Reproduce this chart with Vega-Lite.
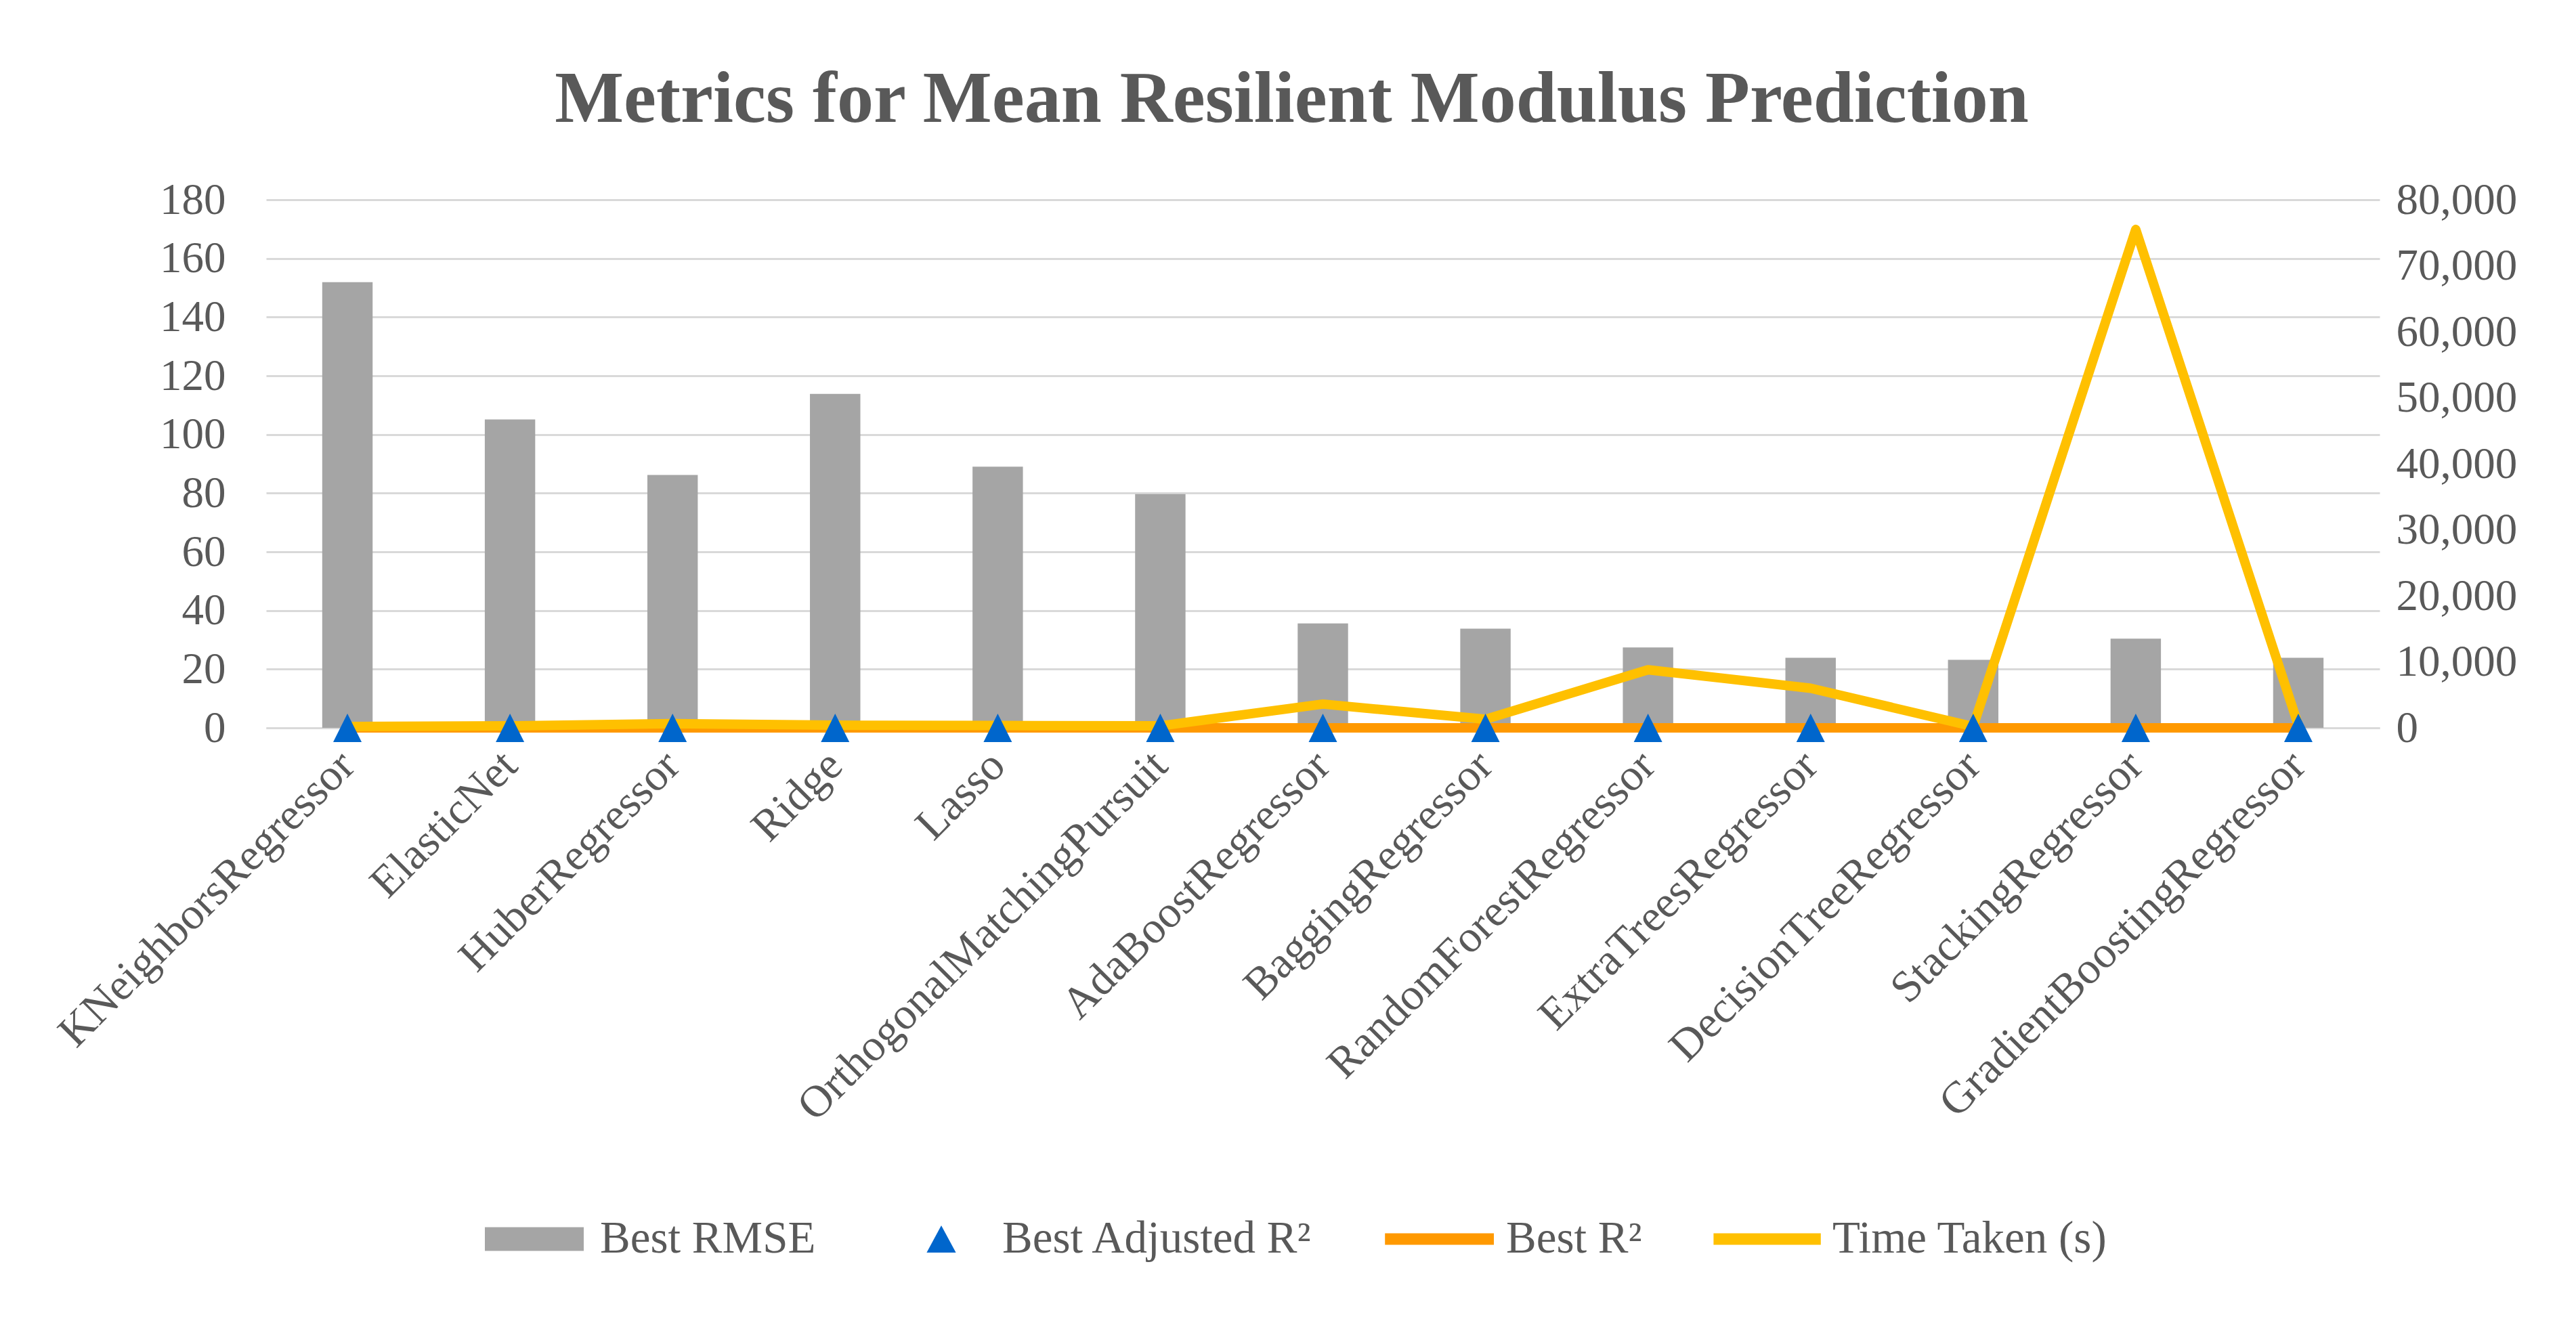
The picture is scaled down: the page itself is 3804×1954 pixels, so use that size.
{
  "$schema": "https://vega.github.io/schema/vega-lite/v6.json",
  "width": 3121,
  "height": 780,
  "autosize": {"type": "none"},
  "padding": {"left": 393, "top": 295, "right": 290, "bottom": 879},
  "background": "white",
  "title": {
    "text": "Metrics for Mean Resilient Modulus Prediction",
    "font": "Liberation Serif",
    "fontSize": 108,
    "fontWeight": "bold",
    "color": "#595959",
    "anchor": "middle",
    "frame": "group",
    "dx": -46,
    "offset": 60
  },
  "data": {
    "values": [
      {"model": "KNeighborsRegressor", "rmse": 151.9, "adjr2": 0.78, "r2": 0.80, "time": 200},
      {"model": "ElasticNet", "rmse": 105.1, "adjr2": 0.89, "r2": 0.90, "time": 300},
      {"model": "HuberRegressor", "rmse": 86.2, "adjr2": 0.92, "r2": 0.93, "time": 650},
      {"model": "Ridge", "rmse": 113.8, "adjr2": 0.87, "r2": 0.88, "time": 400},
      {"model": "Lasso", "rmse": 89.0, "adjr2": 0.91, "r2": 0.92, "time": 350},
      {"model": "OrthogonalMatchingPursuit", "rmse": 79.7, "adjr2": 0.93, "r2": 0.94, "time": 300},
      {"model": "AdaBoostRegressor", "rmse": 35.6, "adjr2": 0.98, "r2": 0.99, "time": 3600},
      {"model": "BaggingRegressor", "rmse": 33.8, "adjr2": 0.98, "r2": 0.99, "time": 1300},
      {"model": "RandomForestRegressor", "rmse": 27.4, "adjr2": 0.99, "r2": 0.99, "time": 8800},
      {"model": "ExtraTreesRegressor", "rmse": 23.9, "adjr2": 0.99, "r2": 0.99, "time": 6000},
      {"model": "DecisionTreeRegressor", "rmse": 23.2, "adjr2": 0.99, "r2": 0.99, "time": 200},
      {"model": "StackingRegressor", "rmse": 30.4, "adjr2": 0.99, "r2": 0.99, "time": 75500},
      {"model": "GradientBoostingRegressor", "rmse": 23.9, "adjr2": 0.99, "r2": 0.99, "time": 400}
    ]
  },
  "encoding": {
    "x": {
      "field": "model",
      "type": "nominal",
      "sort": null,
      "scale": {"paddingInner": 0.69, "paddingOuter": 0.345},
      "axis": {
        "title": null,
        "labelAngle": -45,
        "labelAlign": "right",
        "labelBaseline": "middle",
        "labelFont": "Liberation Serif",
        "labelFontSize": 66,
        "labelColor": "#595959",
        "labelLimit": 3000,
        "labelPadding": 45,
        "ticks": false,
        "domainColor": "#D9D9D9",
        "domainWidth": 3,
        "grid": false
      }
    }
  },
  "layer": [
    {
      "mark": {"type": "bar", "color": "#A5A5A5"},
      "encoding": {
        "y": {
          "field": "rmse",
          "type": "quantitative",
          "scale": {"domain": [0, 180], "nice": false},
          "axis": {
            "title": null,
            "values": [0, 20, 40, 60, 80, 100, 120, 140, 160, 180],
            "labelFont": "Liberation Serif",
            "labelFontSize": 65,
            "labelColor": "#595959",
            "labelPadding": 60,
            "ticks": false,
            "domain": false,
            "grid": true,
            "gridColor": "#D9D9D9",
            "gridWidth": 3
          }
        },
        "color": {
          "datum": "Best RMSE",
          "scale": {
            "domain": ["Best RMSE", "Best Adjusted R²", "Best R²", "Time Taken (s)"],
            "range": ["#A5A5A5", "#0066CC", "#FF9900", "#FFC000"]
          },
          "legend": {
            "title": null,
            "orient": "none",
            "legendX": 323,
            "legendY": 1455,
            "direction": "horizontal",
            "labelFont": "Liberation Serif",
            "labelFontSize": 67,
            "labelColor": "#595959",
            "labelLimit": 2000,
            "labelOffset": 10,
            "columnPadding": 105,
            "symbolSize": 25600,
            "symbolOpacity": 1,
            "symbolStrokeWidth": 0,
            "symbolType": {"expr": "datum.value == 'Best RMSE' ? 'M-1,-0.22L0.825,-0.22L0.825,0.22L-1,0.22Z' : datum.value == 'Best Adjusted R²' ? 'M0,-0.25L0.27,0.25L-0.27,0.25Z' : datum.value == 'Best R²' ? 'M-1.11,-0.106L0.9,-0.106L0.9,0.106L-1.11,0.106Z' : 'M-1.07,-0.106L0.91,-0.106L0.91,0.106L-1.07,0.106Z'"},
            "encoding": {
              "symbols": {
                "fill": {"value": {"expr": "scale('color', datum.value)"}},
                "stroke": {"value": "transparent"},
                "strokeWidth": {"value": 0},
                "opacity": {"value": 1}
              }
            }
          }
        }
      }
    },
    {
      "layer": [
        {
          "mark": {"type": "line", "strokeWidth": 14, "strokeJoin": "round"},
          "encoding": {
            "y": {
              "field": "r2",
              "type": "quantitative",
              "scale": {"domain": [0, 80000], "nice": false},
              "axis": {
                "title": null,
                "orient": "right",
                "values": [0, 10000, 20000, 30000, 40000, 50000, 60000, 70000, 80000],
                "labelExpr": "format(datum.value, ',')",
                "labelFont": "Liberation Serif",
                "labelFontSize": 65,
                "labelColor": "#595959",
                "labelPadding": 24,
                "ticks": false,
                "domain": false,
                "grid": false
              }
            },
            "color": {"datum": "Best R²"}
          }
        },
        {
          "mark": {"type": "line", "strokeWidth": 14, "strokeJoin": "round"},
          "encoding": {
            "y": {"field": "time", "type": "quantitative"},
            "color": {"datum": "Time Taken (s)"}
          }
        },
        {
          "mark": {"type": "point", "shape": "M0,-1L1,1L-1,1Z", "filled": true, "size": 1764, "opacity": 1},
          "encoding": {
            "y": {"field": "adjr2", "type": "quantitative"},
            "color": {"datum": "Best Adjusted R²"}
          }
        }
      ]
    }
  ],
  "resolve": {"scale": {"y": "independent"}},
  "config": {"view": {"stroke": null}}
}
